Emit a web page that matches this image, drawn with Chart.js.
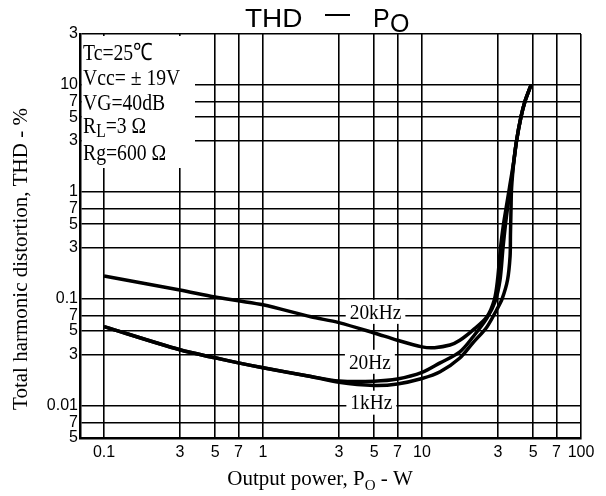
<!DOCTYPE html>
<html>
<head>
<meta charset="utf-8">
<script src="https://cdn.jsdelivr.net/npm/chart.js@4.4.1/dist/chart.umd.min.js"></script>
<style>
  body { margin: 0; background: #fff; }
  canvas { display: block; }
</style>
</head>
<body>
<canvas id="thd" width="606" height="496"></canvas>
<script>
/* TICKS */
const xTicks = [0.1, 0.3, 0.5, 0.7, 1, 3, 5, 7, 10, 30, 50, 70, 100];
const xTickLabels = ['0.1', '3', '5', '7', '1', '3', '5', '7', '10', '3', '5', '7', '100'];
const yTicks = [0.005, 0.007, 0.01, 0.03, 0.05, 0.07, 0.1, 0.3, 0.5, 0.7, 1, 3, 5, 7, 10, 30];
const yTickLabels = ['5', '7', '0.01', '3', '5', '7', '0.1', '3', '5', '7', '1', '3', '5', '7', '10', '3'];

/* SERIES (Po in W, THD in %) */
const po20k  = [0.1, 0.3, 0.5, 0.7, 1, 2, 3, 5, 7, 10, 12, 15, 17.3, 20.9, 25.6, 28.5, 29.85, 31.17, 32.55, 33.76, 35.5, 37.9, 39.3, 41.9, 44.4, 48.5];
const thd20k = [0.164, 0.121, 0.104, 0.096, 0.088, 0.068, 0.060, 0.048, 0.041, 0.0356, 0.035, 0.037, 0.041, 0.051, 0.068, 0.098, 0.15, 0.3, 0.5, 0.7, 1.1, 2, 3, 5, 7, 10];

const po20  = [0.1, 0.3, 0.5, 0.7, 1, 2, 3, 5, 7, 10, 13, 17.3, 20.9, 25.6, 28.8, 30.95, 32.31, 33.51, 34.49, 36.04, 37.9, 39.3, 41.9, 44.4, 48.5];
const thd20 = [0.055, 0.0334, 0.0281, 0.0252, 0.0227, 0.0188, 0.0171, 0.0170, 0.0178, 0.0205, 0.0252, 0.032, 0.044, 0.066, 0.094, 0.15, 0.3, 0.5, 0.7, 1.1, 2, 3, 5, 7, 10];

const po1k  = [0.1, 0.3, 0.5, 0.7, 1, 2, 3, 5, 7, 10, 13, 17.3, 20.9, 25.6, 29.6, 31.9, 34.5, 35.8, 36.0, 36.3, 36.6, 37.9, 39.3, 41.9, 44.4, 48.5];
const thd1k = [0.055, 0.0334, 0.0281, 0.0252, 0.0227, 0.0188, 0.0166, 0.0155, 0.0160, 0.0180, 0.0208, 0.028, 0.0388, 0.0547, 0.080, 0.1, 0.15, 0.25, 0.4, 0.7, 1.1, 2, 3, 5, 7, 10];

const curveNames = ['20kHz', '20Hz', '1kHz'];

const pts = (xs, ys) => xs.map((v, i) => ({ x: v, y: ys[i] }));

/* TEXT HELPERS */
const SERIF = '"Liberation Serif", "Times New Roman", serif';
const SANS = '"Liberation Sans", Arial, sans-serif';

function condensed(ctx, str, x, y, size, sx, family) {
    ctx.save();
    ctx.font = size + 'px ' + family;
    ctx.translate(x, y);
    ctx.scale(sx, 1);
    ctx.fillText(str, 0, 0);
    const w = ctx.measureText(str).width * sx;
    ctx.restore();
    return w;
}

// curve label anchors, in data units
const labelSpots = [
    { x: 5.1, y: 0.0756 },
    { x: 4.7, y: 0.0258 },
    { x: 4.8, y: 0.0107 }
];

const textPlugin = {
    id: 'texts',
    beforeDatasetsDraw(chart) {
        const { ctx, chartArea: a, scales } = chart;
        ctx.save();
        ctx.fillStyle = '#fff';
        // box behind the conditions
        ctx.fillRect(a.left + 2, a.top + 2, 113, 132);
        // boxes behind curve names
        ctx.font = '22px ' + SERIF;
        curveNames.forEach((n, i) => {
            const cx = scales.x.getPixelForValue(labelSpots[i].x);
            const cy = scales.y.getPixelForValue(labelSpots[i].y);
            const w = ctx.measureText(n).width * 0.88 + 8;
            ctx.fillRect(cx - w / 2, cy - 12, w, 24);
        });
        ctx.restore();
    },
    afterDatasetsDraw(chart) {
        const { ctx, chartArea: a, scales } = chart;
        ctx.save();
        ctx.fillStyle = '#000';
        ctx.textBaseline = 'alphabetic';

        // conditions
        const lx = a.left + 3;
        const sx = 0.82;
        condensed(ctx, 'Tc=25℃', lx, 60, 24, sx, SERIF);
        condensed(ctx, 'Vcc= ± 19V', lx, 85, 24, sx, SERIF);
        condensed(ctx, 'VG=40dB', lx, 110, 24, sx, SERIF);
        let w = condensed(ctx, 'R', lx, 133, 24, sx, SERIF);
        w += condensed(ctx, 'L', lx + w, 137, 19, sx, SERIF);
        condensed(ctx, '=3 Ω', lx + w, 133, 24, sx, SERIF);
        condensed(ctx, 'Rg=600 Ω', lx, 160, 24, sx, SERIF);

        // curve names
        ctx.textBaseline = 'middle';
        curveNames.forEach((n, i) => {
            const cx = scales.x.getPixelForValue(labelSpots[i].x);
            const cy = scales.y.getPixelForValue(labelSpots[i].y);
            ctx.font = '22px ' + SERIF;
            const tw = ctx.measureText(n).width * 0.88;
            condensed(ctx, n, cx - tw / 2, cy + 1, 22, 0.88, SERIF);
        });

        // title
        ctx.textBaseline = 'alphabetic';
        condensed(ctx, 'THD', 245, 27, 25, 1.12, SANS);
        ctx.fillRect(325, 14, 25, 2);
        ctx.font = '25px ' + SANS;
        ctx.fillText('P', 373, 27);
        ctx.fillText('O', 390, 32);

        // y axis title
        ctx.save();
        ctx.font = '21px ' + SERIF;
        ctx.translate(27, 259);
        ctx.rotate(-Math.PI / 2);
        ctx.textAlign = 'center';
        ctx.fillText('Total harmonic distortion, THD - %', 0, 0);
        ctx.restore();

        // x axis title
        ctx.font = '21px ' + SERIF;
        const w1 = ctx.measureText('Output power, P').width;
        const w3 = ctx.measureText(' - W').width;
        ctx.font = '15px ' + SERIF;
        const w2 = ctx.measureText('O').width;
        let tx = 320 - (w1 + w2 + w3) / 2;
        ctx.font = '21px ' + SERIF;
        ctx.fillText('Output power, P', tx, 485);
        tx += w1;
        ctx.font = '15px ' + SERIF;
        ctx.fillText('O', tx, 490);
        tx += w2;
        ctx.font = '21px ' + SERIF;
        ctx.fillText(' - W', tx, 485);
        ctx.restore();
    }
};

const lineStyle = {
    showLine: true,
    borderColor: '#000',
    borderWidth: 3.5,
    pointRadius: 0,
    fill: false,
    tension: 0.3
};

new Chart(document.getElementById('thd'), {
    type: 'scatter',
    data: {
        datasets: [
            { label: curveNames[0], data: pts(po20k, thd20k), ...lineStyle },
            { label: curveNames[1], data: pts(po20, thd20), ...lineStyle },
            { label: curveNames[2], data: pts(po1k, thd1k), ...lineStyle }
        ]
    },
    options: {
        responsive: false,
        animation: false,
        devicePixelRatio: 1,
        layout: { padding: { left: 0, right: 25, top: 34, bottom: 0 } },
        plugins: { legend: { display: false }, tooltip: { enabled: false } },
        scales: {
            x: {
                type: 'logarithmic',
                min: 0.0706,
                max: 100,
                afterFit: s => { s.height = 58; },
                afterBuildTicks: s => { s.ticks = xTicks.map(v => ({ value: v })); },
                grid: { color: '#000', lineWidth: 1.6, drawTicks: false },
                border: { color: '#000', width: 2.5 },
                ticks: {
                    autoSkip: false,
                    maxRotation: 0,
                    padding: 5,
                    color: '#000',
                    font: { family: SANS, size: 16 },
                    callback: (v, i) => xTickLabels[i]
                }
            },
            y: {
                type: 'logarithmic',
                min: 0.005,
                max: 30,
                afterFit: s => { s.width = 80; },
                afterBuildTicks: s => { s.ticks = yTicks.map(v => ({ value: v })); },
                grid: { color: '#000', lineWidth: 1.6, drawTicks: false },
                border: { color: '#000', width: 2.5 },
                ticks: {
                    autoSkip: false,
                    padding: 2,
                    color: '#000',
                    font: { family: SANS, size: 16 },
                    callback: (v, i) => yTickLabels[i]
                }
            }
        }
    },
    plugins: [textPlugin]
});
</script>
</body>
</html>
